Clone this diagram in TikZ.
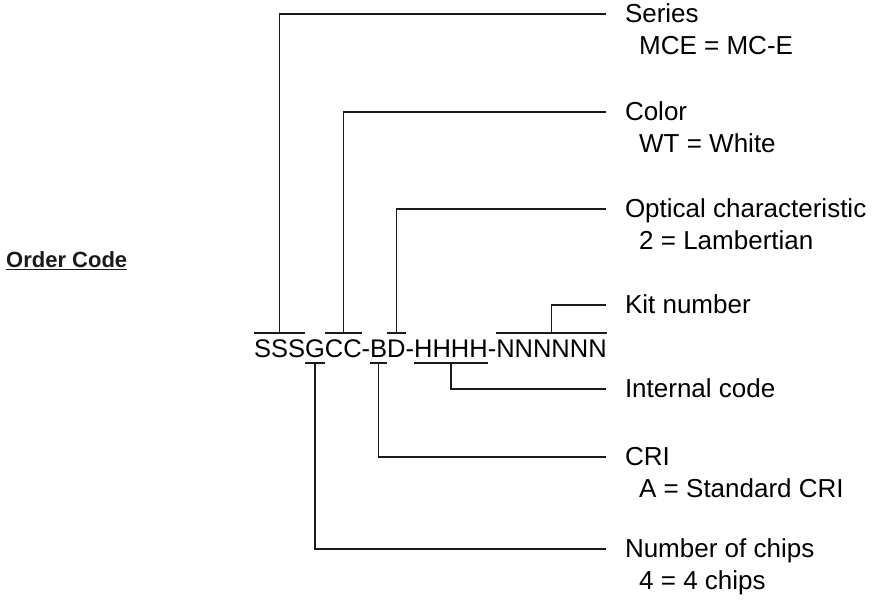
\documentclass[tikz,border=0pt]{standalone}
\usepackage{fontspec}
\setmainfont{Liberation Sans}
\usepackage{xcolor}
\usetikzlibrary{positioning}
\definecolor{inkcustom}{RGB}{26,26,26}

\begin{document}
\begin{tikzpicture}[x=1pt, y=-1pt,
    codepart/.style={inner sep=0pt, outer sep=0pt, text height=25pt, text depth=5pt, font=\fontsize{25.5}{30}\selectfont},
    field/.style={anchor=west, inner xsep=19pt, inner ysep=0pt, outer sep=0pt, text height=18pt, text depth=0pt, font=\fontsize{26}{31}\selectfont},
    value/.style={anchor=base west, inner sep=0pt, font=\fontsize{26}{31}\selectfont},
    leader/.style={line width=1.5pt, draw=inkcustom}]
    \useasboundingbox (0,0) rectangle (879,601);

    \node[anchor=base west, inner sep=0pt, text=inkcustom, font=\fontsize{22}{26}\selectfont\bfseries] (title) at (6,268) {\underline{Order Code}};

    % the order code, split into its fields
    \node[codepart, anchor=base west] (sss) at (254,358) {SSS};
    \node[codepart, right=0pt of sss] (gg) {G};
    \node[codepart, right=0pt of gg] (cc) {CC};
    \node[codepart, right=0pt of cc] (dash1) {-};
    \node[codepart, right=0pt of dash1] (bb) {B};
    \node[codepart, right=0pt of bb] (dd) {D};
    \node[codepart, right=0pt of dd] (dash2) {-};
    \node[codepart, right=0pt of dash2] (hhh) {HHHH};
    \node[codepart, right=0pt of hhh] (dash3) {-};
    \node[codepart, right=0pt of dash3] (nnn) {NNNNNN};

    % field names
    \node[field] (series) at (606,14) {Series};
    \node[field] (color) at (606,112) {Color};
    \node[field] (optical) at (606,209) {Optical characteristic};
    \node[field] (kit) at (606,305) {Kit number};
    \node[field] (internal) at (606,389) {Internal code};
    \node[field] (cri) at (606,457) {CRI};
    \node[field] (chips) at (606,549) {Number of chips};

    \node[value] (seriesval) at ([xshift=33pt, yshift=-41pt]series.west) {MCE = MC-E};
    \node[value] (colorval) at ([xshift=33pt, yshift=-41pt]color.west) {WT = White};
    \node[value] (opticalval) at ([xshift=33pt, yshift=-41pt]optical.west) {2 = Lambertian};
    \node[value] (crival) at ([xshift=33pt, yshift=-41pt]cri.west) {A = Standard CRI};
    \node[value] (chipsval) at ([xshift=33pt, yshift=-41pt]chips.west) {4 = 4 chips};

    % bars over and under the fields
    \foreach \part in {sss,cc,dd,nnn}
        \draw[leader] (\part.north west) -- (\part.north east);
    \foreach \part in {gg,bb,hhh}
        \draw[leader] (\part.south west) -- (\part.south east);

    \draw[leader] (sss.north) |- (series.west);
    \draw[leader] (cc.north) |- (color.west);
    \draw[leader] (dd.north) |- (optical.west);
    \draw[leader] (nnn.north) |- (kit.west);
    \draw[leader] (hhh.south) |- (internal.west);
    \draw[leader] (bb.south) |- (cri.west);
    \draw[leader] (gg.south) |- (chips.west);
\end{tikzpicture}
\end{document}
